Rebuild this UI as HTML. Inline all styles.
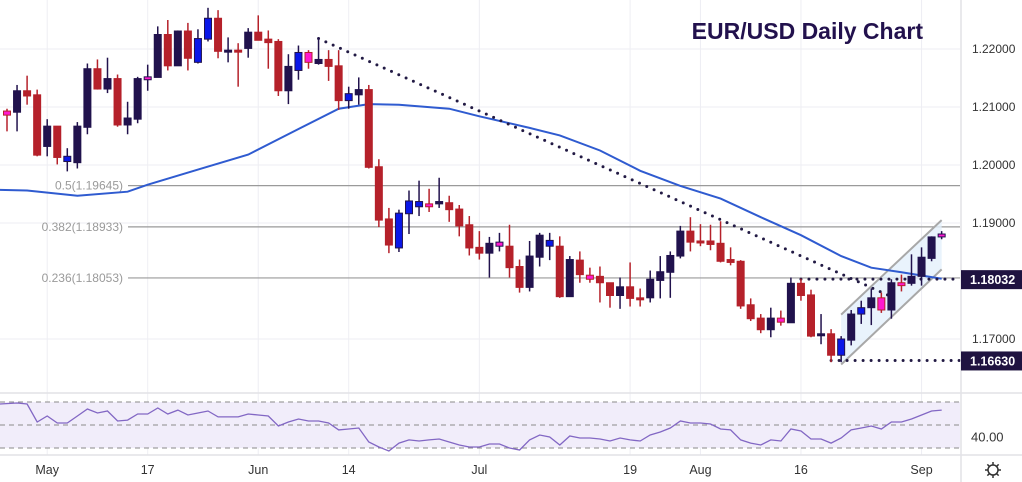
<!DOCTYPE html>
<html><head><meta charset="utf-8"><style>
html,body{margin:0;padding:0;background:#fff;}
svg{display:block;font-family:"Liberation Sans",sans-serif;}
</style></head><body>
<svg id="chart" width="1022" height="482" viewBox="0 0 1022 482" xmlns="http://www.w3.org/2000/svg">
<rect x="0" y="0" width="1022" height="482" fill="#fff"/>
<g id="grid"></g>
<g id="fib"></g>
<g id="channel"></g>
<g id="ma"></g>
<g id="trend"></g>
<g id="candles"></g>
<g id="rsi"></g>
<g id="axes"></g>
<text x="923" y="39" text-anchor="end" font-size="23" font-weight="bold" fill="#22114d">EUR/USD Daily Chart</text>
</svg>
<script>
const opens=[1.2093,1.2091,1.2128,1.2121,1.2032,1.2067,1.2006,1.2004,1.2065,1.2166,1.2131,1.2149,1.2069,1.2079,1.2147,1.2151,1.2225,1.2171,1.2231,1.2177,1.2217,1.2253,1.2196,1.2198,1.2201,1.2229,1.2217,1.2213,1.2128,1.2163,1.2194,1.2175,1.2182,1.2171,1.2111,1.2121,1.2130,1.1997,1.1907,1.1857,1.1916,1.1928,1.1933,1.1933,1.1935,1.1924,1.1897,1.1858,1.1848,1.1860,1.1860,1.1825,1.1789,1.1841,1.1860,1.1860,1.1773,1.1836,1.1810,1.1808,1.1797,1.1775,1.1790,1.1771,1.1771,1.1801,1.1815,1.1843,1.1886,1.1869,1.1869,1.1865,1.1837,1.1834,1.1759,1.1736,1.1716,1.1736,1.1728,1.1796,1.1776,1.1707,1.1709,1.1672,1.1698,1.1743,1.1754,1.1771,1.1750,1.1797,1.1796,1.1808,1.1839,1.1876];
const highs=[1.2097,1.2138,1.2154,1.2130,1.2079,1.2067,1.2029,1.2074,1.2175,1.2182,1.2185,1.2156,1.2109,1.2152,1.2173,1.2239,1.2250,1.2232,1.2245,1.2234,1.2271,1.2267,1.2220,1.2210,1.2236,1.2258,1.2232,1.2217,1.2191,1.2206,1.2198,1.2220,1.2198,1.2198,1.2135,1.2151,1.2138,1.2010,1.1926,1.1923,1.1956,1.1973,1.1959,1.1978,1.1947,1.1931,1.1912,1.1886,1.1876,1.1883,1.1897,1.1837,1.1869,1.1883,1.1883,1.1877,1.1843,1.1851,1.1823,1.1825,1.1797,1.1806,1.1832,1.1787,1.1818,1.1843,1.1851,1.1895,1.1910,1.1898,1.1897,1.1903,1.1858,1.1836,1.1770,1.1743,1.1754,1.1749,1.1806,1.1804,1.1785,1.1743,1.1717,1.1705,1.1750,1.1766,1.1787,1.1780,1.1803,1.1811,1.1846,1.1858,1.1877,1.1886];
const lows=[1.2058,1.2058,1.2104,1.2015,1.2015,1.2001,1.1989,1.1994,1.2053,1.2130,1.2124,1.2066,1.2053,1.2072,1.2128,1.2151,1.2163,1.2171,1.2163,1.2175,1.2213,1.2184,1.2177,1.2135,1.2185,1.2215,1.2166,1.2119,1.2105,1.2147,1.2166,1.2173,1.2145,1.2095,1.2097,1.2104,1.1994,1.1893,1.1848,1.1850,1.1881,1.1912,1.1919,1.1926,1.1902,1.1877,1.1844,1.1837,1.1806,1.1851,1.1806,1.1780,1.1782,1.1825,1.1836,1.1771,1.1773,1.1797,1.1797,1.1763,1.1754,1.1752,1.1756,1.1756,1.1763,1.1770,1.1771,1.1839,1.1851,1.1860,1.1853,1.1832,1.1827,1.1752,1.1731,1.1710,1.1703,1.1723,1.1728,1.1766,1.1703,1.1691,1.1660,1.1660,1.1689,1.1726,1.1724,1.1745,1.1735,1.1782,1.1792,1.1792,1.1834,1.1872];
const closes=[1.2086,1.2128,1.2119,1.2017,1.2067,1.2013,1.2015,1.2067,1.2166,1.2131,1.2149,1.2069,1.2081,1.2149,1.2152,1.2225,1.2171,1.2231,1.2184,1.2218,1.2253,1.2196,1.2198,1.2196,1.2229,1.2215,1.2211,1.2128,1.2170,1.2194,1.2177,1.2182,1.2170,1.2111,1.2123,1.2130,1.1996,1.1905,1.1862,1.1917,1.1938,1.1937,1.1928,1.1937,1.1923,1.1895,1.1857,1.1848,1.1865,1.1867,1.1823,1.1789,1.1843,1.1879,1.1870,1.1773,1.1837,1.1811,1.1803,1.1797,1.1775,1.1790,1.1770,1.1768,1.1803,1.1816,1.1844,1.1886,1.1867,1.1867,1.1863,1.1834,1.1832,1.1757,1.1735,1.1716,1.1736,1.1729,1.1796,1.1775,1.1705,1.1709,1.1672,1.1700,1.1743,1.1754,1.1771,1.1750,1.1797,1.1792,1.1808,1.1841,1.1876,1.1881];
const blueBars=[6,19,20,29,34,39,40,41,54,83,85];
const magentaBars=[0,14,30,42,49,58,77,87,89,93];
const maIdx=[-0.7,2,7,12,14,19,24,29,33,36,39,44,47,52,55,59,63,67,71,75,79,83,86,89,93];
const maVal=[1.1957,1.1956,1.1947,1.1954,1.1966,1.1992,1.2018,1.2062,1.2097,1.2105,1.2104,1.2097,1.2084,1.2064,1.2051,1.2025,1.1990,1.1964,1.1942,1.1910,1.1879,1.1843,1.1823,1.1815,1.1804];
const rsiVals=[68.3,69.1,68.3,52.6,57.8,51.7,51.7,57.8,63.9,60.4,62.2,53.5,54.3,59.6,59.6,64.8,59.6,63.0,58.7,60.4,62.2,57.0,57.0,57.0,59.6,58.7,57.8,49.1,52.6,55.2,53.5,53.5,51.7,45.7,46.5,47.4,35.2,30.9,27.4,34.3,37.0,36.1,37.0,37.8,35.2,32.6,30.9,30.9,33.5,33.5,30.0,28.3,37.0,41.3,39.6,32.6,40.4,38.7,38.7,37.8,36.1,38.7,37.0,36.1,41.3,43.9,47.4,53.5,51.7,51.7,50.9,46.5,45.7,37.0,34.3,32.6,37.0,36.1,46.5,44.8,37.8,37.8,34.3,38.7,45.7,47.4,49.1,46.5,52.6,52.6,55.2,58.7,62.2,63.0];
const priceTicks=[1.22,1.21,1.20,1.19,1.17];
const priceTickLabels=["1.22000","1.21000","1.20000","1.19000","1.17000"];
const dateIdx=[4,14,25,34,47,62,69,79,91];
const dateLabels=["May","17","Jun","14","Jul","19","Aug","16","Sep"];
const fibLevels=[1.19645,1.18933,1.18053];
const fibLabels=["0.5(1.19645)","0.382(1.18933)","0.236(1.18053)"];
const trendIdx=[31,88];
const trendVal=[1.2218,1.1773];
const channelIdx=[83,93];
const channelUpper=[1.1742,1.1905];
const channelLower=[1.1656,1.1820];
const markLevels=[1.18032,1.16630];
const markLabels=["1.18032","1.16630"];
const markStartIdx=[79,82];
const rsiLevels=[70,50,30];

const NS="http://www.w3.org/2000/svg";
const X=i=>7+i*10.05;
const Y=p=>223-(p-1.19)*5800;
const RY=v=>425-(v-50)*1.15;
const PR=960;
function mk(tag,attrs,parent){const e=document.createElementNS(NS,tag);for(const k in attrs)e.setAttribute(k,attrs[k]);parent.appendChild(e);return e;}
const g=id=>document.getElementById(id);

// grid
priceTicks.forEach((p,k)=>{const l=mk('line',{x1:0,x2:PR,y1:Y(p),y2:Y(p),stroke:'#eeeef3','stroke-width':1},g('grid'));

});
dateIdx.forEach((d,k)=>{const l=mk('line',{x1:X(d),x2:X(d),y1:0,y2:455,stroke:'#eeeef3','stroke-width':1},g('grid'));

});

// fib
fibLevels.forEach((p,k)=>{const l=mk('line',{x1:128,x2:PR,y1:Y(p),y2:Y(p),stroke:'#9a9a9a','stroke-width':1.2},g('fib'));


const t=mk('text',{x:123,y:Y(p)+4,'text-anchor':'end','font-size':12,fill:'#9a9a9a'},g('fib'));t.textContent=fibLabels[k];

});

// channel
(function(){const c=g('channel');
const pts=`${X(channelIdx[0])},${Y(channelUpper[0])} ${X(channelIdx[1])},${Y(channelUpper[1])} ${X(channelIdx[1])},${Y(channelLower[1])} ${X(channelIdx[0])},${Y(channelLower[0])}`;
const f=mk('polygon',{points:pts,fill:'#e3f0fb',opacity:0.8},c);


[channelUpper,channelLower].forEach(arr=>{const l=mk('line',{x1:X(channelIdx[0]),y1:Y(arr[0]),x2:X(channelIdx[1]),y2:Y(arr[1]),stroke:'#a8a8a8','stroke-width':2},c);

});})();

// MA
(function(){let d='M0,'+Y(maVal[0]);maIdx.forEach((i,k)=>{d+=' L'+Math.max(0,X(i)).toFixed(1)+','+Y(maVal[k]).toFixed(1);});
const p=mk('path',{d:d,fill:'none',stroke:'#2f5bd0','stroke-width':2},g('ma'));

})();

// trendlines
(function(){const t=g('trend');
const l=mk('line',{x1:X(trendIdx[0]),y1:Y(trendVal[0]),x2:X(trendIdx[1]),y2:Y(trendVal[1]),stroke:'#221a44','stroke-width':3,'stroke-dasharray':'0 8','stroke-linecap':'round'},t);


markLevels.forEach((p,k)=>{const h=mk('line',{x1:X(markStartIdx[k]),y1:Y(p),x2:PR,y2:Y(p),stroke:'#221a44','stroke-width':3,'stroke-dasharray':'0 8','stroke-linecap':'round'},t);

});})();

// candles
opens.forEach((o,i)=>{const c=closes[i];let col=c>=o?'#21124d':'#b5212a';let fill=col,stroke=col;
if(blueBars.includes(i)){fill='#0a17e8';stroke=c>=o?'#21124d':'#b5212a';}
if(magentaBars.includes(i)){fill='#ff19d0';stroke=c>=o?'#21124d':'#b5212a';}
const x=X(i);
const w=mk('line',{x1:x,x2:x,y1:Y(highs[i]),y2:Y(lows[i]),stroke:col,'stroke-width':1.5},g('candles'));


const top=Math.min(Y(o),Y(c)),h=Math.max(2,Math.abs(Y(o)-Y(c)));
const r=mk('rect',{x:x-3.5,y:top,width:7,height:h,fill:fill,stroke:stroke,'stroke-width':1},g('candles'));

});

// RSI pane
(function(){const r=g('rsi');
const bg=mk('rect',{x:0,y:RY(70),width:PR,height:RY(30)-RY(70),fill:'#f1edfa'},r);


rsiLevels.forEach(v=>{const l=mk('line',{x1:0,x2:PR,y1:RY(v),y2:RY(v),stroke:'#8a8a8a','stroke-width':1,'stroke-dasharray':'5 4'},r);

});
let d='';rsiVals.forEach((v,i)=>{d+=(i?' L':'M')+(i===0?0:X(i)).toFixed(1)+','+RY(v).toFixed(1);});
const p=mk('path',{d:d,fill:'none',stroke:'#8267c4','stroke-width':1.3},r);


const t=mk('text',{x:971,y:RY(40)+5,'font-size':13,fill:'#333'},r);t.textContent='40.00';

})();

// axes
(function(){const a=g('axes');
[[0,393,1022,393],[0,455,1022,455],[961,0,961,482]].forEach(s=>{const l=mk('line',{x1:s[0],y1:s[1],x2:s[2],y2:s[3],stroke:'#e2e2e6','stroke-width':1.5},a);

});
priceTicks.forEach((p,k)=>{const t=mk('text',{x:972,y:Y(p)+4,'font-size':12,fill:'#333'},a);t.textContent=priceTickLabels[k];

});
markLevels.forEach((p,k)=>{const b=mk('rect',{x:961,y:Y(p)-9,width:61,height:19,fill:'#1f1340'},a);


const t=mk('text',{x:970,y:Y(p)+5,'font-size':12.5,'font-weight':'bold',fill:'#fff'},a);t.textContent=markLabels[k];

});
dateIdx.forEach((d,k)=>{const t=mk('text',{x:X(d),y:474,'text-anchor':'middle','font-size':12.5,fill:'#333'},a);t.textContent=dateLabels[k];

});
const gear=mk('g',{},a);


mk('circle',{cx:993,cy:470,r:5,fill:'none',stroke:'#333','stroke-width':1.5},gear);
for(let k=0;k<8;k++){const an=k*Math.PI/4;mk('line',{x1:993+5*Math.cos(an),y1:470+5*Math.sin(an),x2:993+8*Math.cos(an),y2:470+8*Math.sin(an),stroke:'#333','stroke-width':1.5},gear);}
})();
</script>
</body></html>
